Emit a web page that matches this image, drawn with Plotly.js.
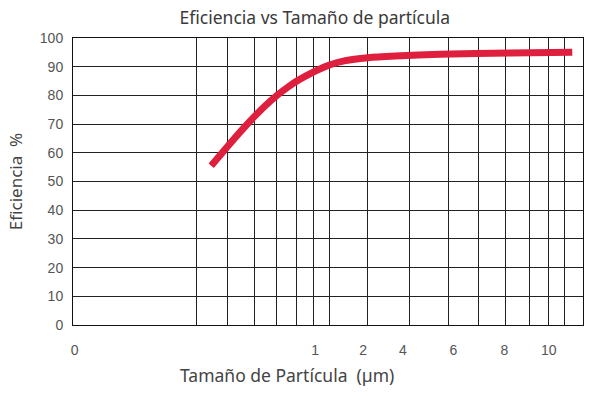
<!DOCTYPE html>
<html>
<head>
<meta charset="utf-8">
<script src="https://cdn.plot.ly/plotly-3.0.1.min.js"></script>
<style>html,body{margin:0;padding:0;background:#fff;}#chart{width:602px;height:395px;}</style>
</head>
<body>
<div id="chart"></div>
<script>
// Position along the (non-uniform) particle-size scale, 0..100 across the plot width
const curvePos = [27.1, 30.3, 33.1, 35.5, 37.7, 40.0, 42.3, 43.9, 47.3, 50.3, 53.4, 57.8, 63.2, 72.0, 85.8, 97.9];
// Efficiency (%)
const efficiency = [55.5, 62.2, 67.9, 72.5, 76.4, 80.0, 83.1, 85.0, 88.3, 90.6, 92.1, 93.1, 93.7, 94.3, 94.8, 95.0];
// Vertical grid line positions on the same scale
const gridPos = [24.2, 30.3, 35.5, 39.9, 43.8, 47.2, 50.2, 57.7, 65.9, 73.6, 79.6, 84.9, 89.5, 93.2, 96.4];
// Particle-size tick labels and their positions
const tickPos = [0.3, 47.5, 56.9, 64.7, 74.6, 84.6, 93.3];
const tickLabels = ['0', '1', '2', '4', '6', '8', '10'];
const yTicks = [0, 10, 20, 30, 40, 50, 60, 70, 80, 90, 100];

const traces = [
  {
    x: curvePos, y: efficiency, type: 'scatter', mode: 'lines',
    line: {color: '#DE1F3E', width: 7, shape: 'spline', smoothing: 0.6},
    hoverinfo: 'skip', showlegend: false
  },
  {
    x: [], y: [], xaxis: 'x2', type: 'scatter', mode: 'lines', showlegend: false, hoverinfo: 'skip'
  }
];

const layout = {
  width: 602, height: 395,
  margin: {l: 73, r: 19, t: 38, b: 70},
  paper_bgcolor: '#fff', plot_bgcolor: '#fff',
  showlegend: false,
  title: {
    text: 'Eficiencia vs Tamaño de partícula',
    font: {family: 'Noto Sans, Open Sans, sans-serif', size: 17.5, color: '#3a3a3a'},
    x: 0.523, xanchor: 'center', y: 0.955, yanchor: 'middle'
  },
  xaxis: {
    range: [0, 100], tickmode: 'array', tickvals: tickPos, ticktext: tickLabels,
    showgrid: false, zeroline: false, showline: true, linecolor: '#111', linewidth: 1, mirror: true,
    ticks: '', ticklabelstandoff: 12,
    tickfont: {family: 'Liberation Sans, Arial, sans-serif', size: 14, color: '#555'}
  },
  xaxis2: {
    range: [0, 100], overlaying: 'x', tickmode: 'array', tickvals: gridPos,
    showticklabels: false, showgrid: true, gridcolor: '#222', gridwidth: 1,
    zeroline: false, showline: false, ticks: ''
  },
  yaxis: {
    range: [0, 100], tickmode: 'array', tickvals: yTicks,
    showgrid: true, gridcolor: '#222', gridwidth: 1,
    zeroline: false, showline: true, linecolor: '#111', linewidth: 1, mirror: true,
    ticks: '', ticklabelstandoff: 6,
    tickfont: {family: 'Liberation Sans, Arial, sans-serif', size: 14, color: '#555'},
    title: {text: 'Eficiencia  %', font: {family: 'Noto Sans, Open Sans, sans-serif', size: 17, color: '#444'}, standoff: 12}
  },
  annotations: [
    {
      text: 'Tamaño de Partícula  (µm)', xref: 'paper', yref: 'paper',
      x: 0.42, y: -0.175, xanchor: 'center', yanchor: 'middle', showarrow: false,
      font: {family: 'Noto Sans, Open Sans, sans-serif', size: 17.5, color: '#444'}
    }
  ]
};

Plotly.newPlot('chart', traces, layout, {staticPlot: true, displayModeBar: false});
</script>
</body>
</html>
